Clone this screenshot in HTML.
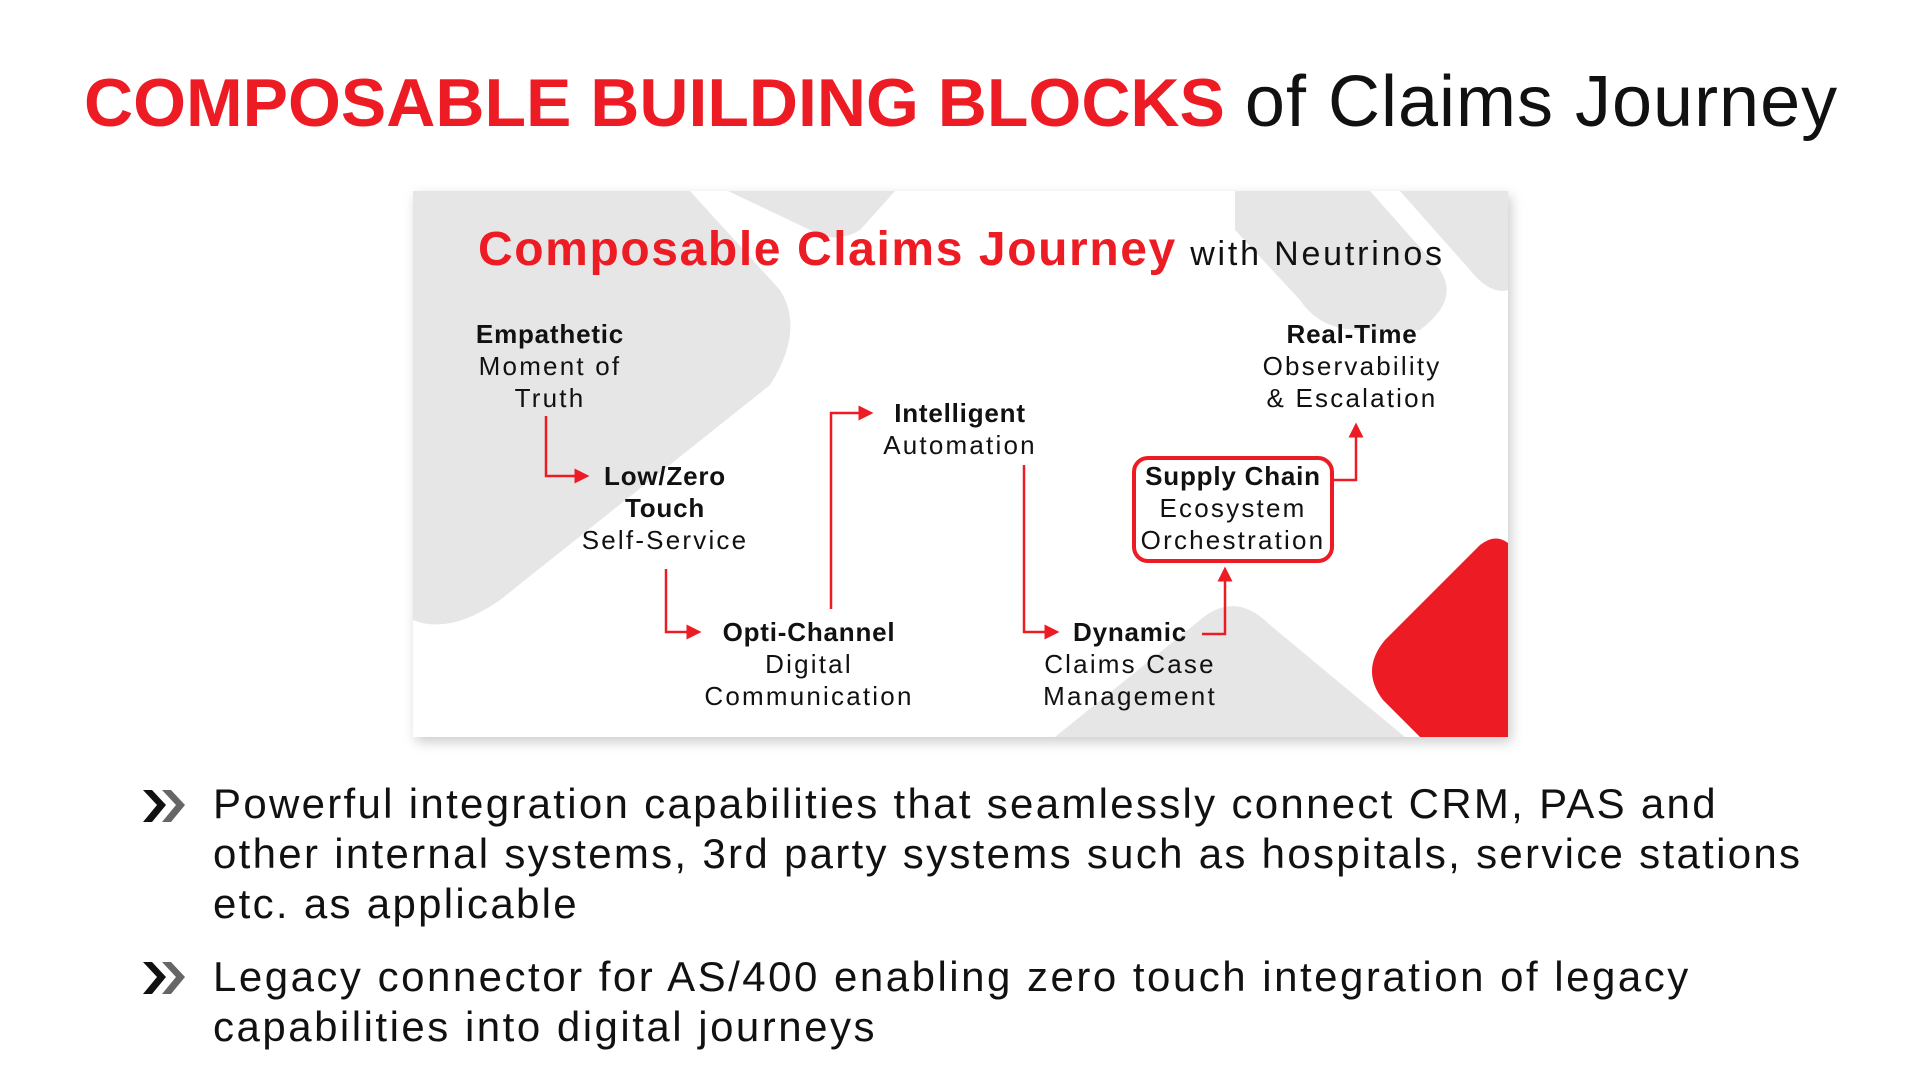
<!DOCTYPE html>
<html><head><meta charset="utf-8"><style>
html,body{margin:0;padding:0;background:#fff;width:1920px;height:1080px;overflow:hidden;font-family:"Liberation Sans",sans-serif}
svg{position:absolute;left:0;top:0}
.t{position:absolute;white-space:nowrap}
.n{font-size:26px;line-height:32px;color:#111;text-align:center;letter-spacing:2.2px}
.n b{letter-spacing:0.8px}
</style></head><body>
<svg width="1920" height="1080" viewBox="0 0 1920 1080">
<defs>
<filter id="sh" x="-5%" y="-5%" width="110%" height="112%"><feGaussianBlur stdDeviation="6"/></filter>
<clipPath id="cc"><rect x="413" y="191" width="1095" height="546"/></clipPath>
<marker id="ar" viewBox="0 0 10 10" refX="5" refY="5" markerWidth="6" markerHeight="6" orient="auto"><path d="M0,0 L10,5 L0,10 z" fill="#ed1c24"/></marker>
</defs>
<rect x="416" y="196" width="1095" height="546" fill="#999" opacity="0.5" filter="url(#sh)"/>
<rect x="413" y="191" width="1095" height="546" fill="#fff"/>
<g clip-path="url(#cc)" fill="#e6e6e6">
<path d="M413,191 L690,191 L780,290 Q805,330 770,385 L500,600 Q450,635 413,620 Z"/>
<path d="M728,191 L895,191 L860,230 Q835,245 810,230 Z"/>
<path d="M1235,191 L1370,191 L1440,270 Q1460,300 1420,330 L1360,330 Q1320,330 1300,300 L1235,230 Z"/>
<path d="M1400,191 L1508,191 L1508,290 Q1490,295 1470,270 Z"/>
<path d="M1055,737 L1200,620 Q1235,590 1270,625 L1405,737 Z"/>
<path fill="#ed1c24" d="M1508,543 L1508,737 L1420,737 L1383,700 Q1360,670 1385,640 L1480,545 Q1495,533 1508,543 Z"/>
</g>
<g fill="none" stroke="#ed1c24" stroke-width="2.5" marker-end="url(#ar)">
<path d="M546,416 V476 H582"/>
<path d="M666,569 V632 H694"/>
<path d="M831,609 V413 H866"/>
<path d="M1024,465 V632 H1052"/>
<path d="M1202,634 H1225 V574"/>
<path d="M1332,480 H1356 V430"/>
</g>
<rect x="1134" y="458" width="198" height="103" rx="14" fill="none" stroke="#ed1c24" stroke-width="4"/>
<path d="M143,790 L157,805 L143,822 L152,822 L166,805 L152,790 Z" fill="#111"/>
<path d="M162,790 L176,805 L162,822 L171,822 L185,805 L171,790 Z" fill="#666"/>
<path d="M143,962 L157,977 L143,994 L152,994 L166,977 L152,962 Z" fill="#111"/>
<path d="M162,962 L176,977 L162,994 L171,994 L185,977 L171,962 Z" fill="#666"/>
</svg>
<div class="t" style="left:84px;top:60px;font-size:72px;line-height:84px;color:#111"><b style="color:#ed1c24;font-size:68px">COMPOSABLE BUILDING BLOCKS</b> <span style="letter-spacing:1px">of Claims Journey</span></div>
<div class="t" style="left:478px;top:222px;font-size:48px;line-height:56px;color:#111"><b style="color:#ed1c24;letter-spacing:1.6px">Composable Claims Journey</b> <span style="font-size:34px;letter-spacing:2.8px">with Neutrinos</span></div>
<div class="t n" style="left:430px;top:318px;width:240px"><b>Empathetic</b><br>Moment of<br>Truth</div>
<div class="t n" style="left:545px;top:460px;width:240px"><b>Low/Zero<br>Touch</b><br>Self-Service</div>
<div class="t n" style="left:679px;top:616px;width:260px"><b>Opti-Channel</b><br>Digital<br>Communication</div>
<div class="t n" style="left:840px;top:397px;width:240px"><b>Intelligent</b><br>Automation</div>
<div class="t n" style="left:1000px;top:616px;width:260px"><b>Dynamic</b><br>Claims Case<br>Management</div>
<div class="t n" style="left:1113px;top:460px;width:240px"><b>Supply Chain</b><br>Ecosystem<br>Orchestration</div>
<div class="t n" style="left:1222px;top:318px;width:260px"><b>Real-Time</b><br>Observability<br>&amp; Escalation</div>
<div class="t" style="left:213px;top:779px;font-size:42px;line-height:50px;color:#111;letter-spacing:2.3px">Powerful integration capabilities that seamlessly connect CRM, PAS and<br>other internal systems, 3rd party systems such as hospitals, service stations<br>etc. as applicable</div>
<div class="t" style="left:213px;top:952px;font-size:42px;line-height:50px;color:#111;letter-spacing:2.5px">Legacy connector for AS/400 enabling zero touch integration of legacy<br>capabilities into digital journeys</div>
</body></html>
